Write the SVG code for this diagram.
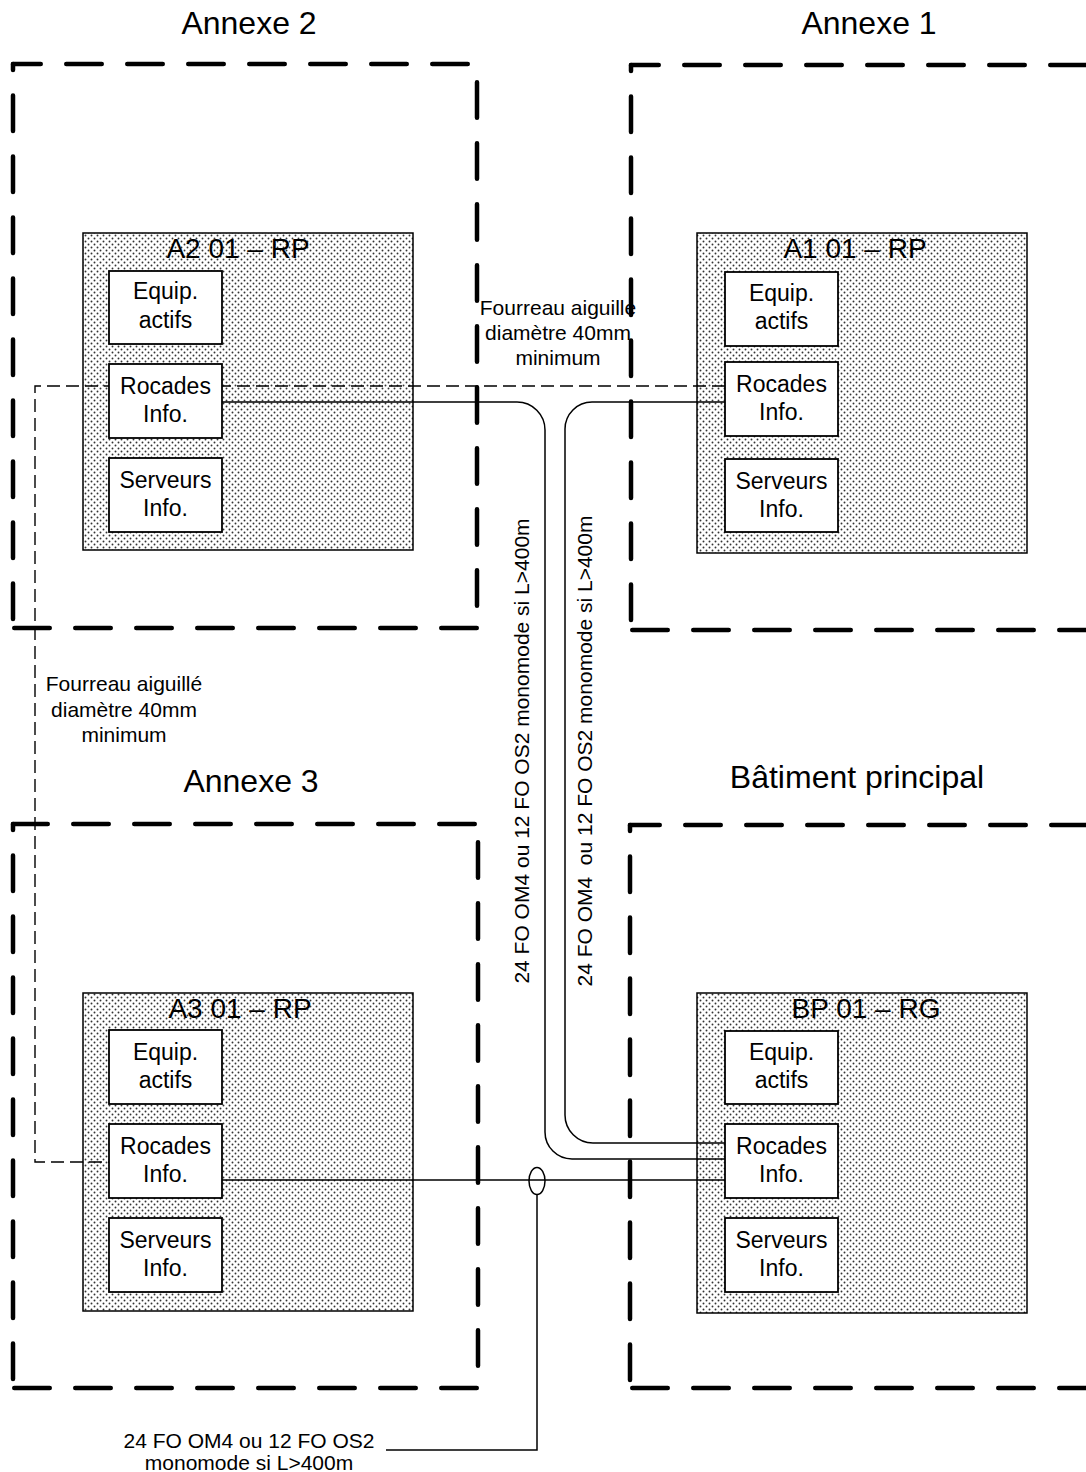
<svg xmlns="http://www.w3.org/2000/svg" width="1086" height="1472" viewBox="0 0 1086 1472">
<style>
.wall{fill:none;stroke:#000;stroke-width:4.5;stroke-linecap:round;stroke-dasharray:35.5 25.5}
.room{fill:url(#dots);stroke:#000;stroke-width:1.5}
.box{fill:#fff;stroke:#000;stroke-width:1.8}
.cable{fill:none;stroke:#000;stroke-width:1.5}
.duct{fill:none;stroke:#000;stroke-width:1.4;stroke-dasharray:13 6}
text{font-family:"Liberation Sans",Arial,sans-serif;fill:#000;text-anchor:middle}
.bld{font-size:32px}
.ttl{font-size:28px}
.lbl{font-size:23px}
.note{font-size:21px}
</style>
<defs>
<pattern id="dots" width="6" height="6" patternUnits="userSpaceOnUse">
<rect width="6" height="6" fill="#fff"/>
<circle cx="1.5" cy="1.5" r="0.95" fill="#333"/>
<circle cx="4.5" cy="4.5" r="0.95" fill="#333"/>
</pattern>
</defs>
<rect width="1086" height="1472" fill="#fff"/>

<g id="annexe2">
<line class="wall" x1="13" y1="64" x2="477" y2="64" stroke-dashoffset="7.75"/>
<line class="wall" x1="13" y1="64" x2="13" y2="628" stroke-dashoffset="29.5"/>
<line class="wall" x1="14.25" y1="628" x2="477" y2="628"/>
<line class="wall" x1="477" y1="82.25" x2="477" y2="628"/>
<text class="bld" x="249" y="34">Annexe 2</text>
</g>
<g id="annexe1">
<line class="wall" x1="631" y1="65" x2="1100" y2="65" stroke-dashoffset="7.75"/>
<line class="wall" x1="631" y1="65" x2="631" y2="630" stroke-dashoffset="29.5"/>
<line class="wall" x1="632.25" y1="630" x2="1100" y2="630"/>
<text class="bld" x="869" y="34">Annexe 1</text>
</g>
<g id="annexe3">
<line class="wall" x1="13" y1="824" x2="478" y2="824" stroke-dashoffset="0.75"/>
<line class="wall" x1="13" y1="824" x2="13" y2="1388" stroke-dashoffset="29.5"/>
<line class="wall" x1="14.25" y1="1388" x2="478" y2="1388"/>
<line class="wall" x1="478" y1="842.25" x2="478" y2="1388"/>
<text class="bld" x="251" y="792">Annexe 3</text>
</g>
<g id="batiment-principal">
<line class="wall" x1="630" y1="825" x2="1100" y2="825" stroke-dashoffset="5.75"/>
<line class="wall" x1="630" y1="825" x2="630" y2="1388" stroke-dashoffset="29.5"/>
<line class="wall" x1="632.25" y1="1388" x2="1100" y2="1388"/>
<text class="bld" x="857" y="788">Bâtiment principal</text>
</g>

<g id="room-a2">
<rect class="room" x="83" y="233" width="330" height="317"/>
<text class="ttl" x="238" y="258">A2 01 – RP</text>
</g>
<g id="room-a1">
<rect class="room" x="697" y="233" width="330" height="320"/>
<text class="ttl" x="855" y="258">A1 01 – RP</text>
</g>
<g id="room-a3">
<rect class="room" x="83" y="993" width="330" height="318"/>
<text class="ttl" x="240" y="1018">A3 01 – RP</text>
</g>
<g id="room-bp">
<rect class="room" x="697" y="993" width="330" height="320"/>
<text class="ttl" x="866" y="1018">BP 01 – RG</text>
</g>

<g id="connectors">
<path class="duct" d="M725,386 H35 V1162 H110"/>
<path class="cable" d="M222,402 H517 A28,28 0 0 1 545,430 V1132 A27,27 0 0 0 572,1159 H725"/>
<path class="cable" d="M725,402 H592 A27,27 0 0 0 565,429 V1115 A28,28 0 0 0 593,1143 H725"/>
<path class="cable" d="M222,1180 H725"/>
<ellipse class="cable" cx="537" cy="1181" rx="8" ry="13.5"/>
<path class="cable" d="M537,1194.5 V1450 H386"/>
<text class="note" x="558" y="315">Fourreau aiguille</text>
<text class="note" x="558" y="340">diamètre 40mm</text>
<text class="note" x="558" y="365">minimum</text>
<text class="note" x="124" y="691">Fourreau aiguillé</text>
<text class="note" x="124" y="717">diamètre 40mm</text>
<text class="note" x="124" y="742">minimum</text>
<text class="note" x="529" y="751" transform="rotate(-90 529 751)">24 FO OM4 ou 12 FO OS2 monomode si L&gt;400m</text>
<text class="note" x="592" y="751" transform="rotate(-90 592 751)" style="white-space:pre">24 FO OM4  ou 12 FO OS2 monomode si L&gt;400m</text>
<text class="note" x="249" y="1448">24 FO OM4 ou 12 FO OS2</text>
<text class="note" x="249" y="1470">monomode si L&gt;400m</text>
</g>

<g id="a2-equip"><rect class="box" x="109" y="271" width="113" height="73"/><text class="lbl" x="165.5" y="299">Equip.</text><text class="lbl" x="165.5" y="328">actifs</text></g>
<g id="a2-rocades"><rect class="box" x="109" y="364" width="113" height="74"/><text class="lbl" x="165.5" y="394">Rocades</text><text class="lbl" x="165.5" y="422">Info.</text></g>
<g id="a2-serveurs"><rect class="box" x="109" y="458" width="113" height="74"/><text class="lbl" x="165.5" y="488">Serveurs</text><text class="lbl" x="165.5" y="516">Info.</text></g>

<g id="a1-equip"><rect class="box" x="725" y="272" width="113" height="74"/><text class="lbl" x="781.5" y="301">Equip.</text><text class="lbl" x="781.5" y="329">actifs</text></g>
<g id="a1-rocades"><rect class="box" x="725" y="362" width="113" height="74"/><text class="lbl" x="781.5" y="392">Rocades</text><text class="lbl" x="781.5" y="420">Info.</text></g>
<g id="a1-serveurs"><rect class="box" x="725" y="459" width="113" height="73"/><text class="lbl" x="781.5" y="489">Serveurs</text><text class="lbl" x="781.5" y="517">Info.</text></g>

<g id="a3-equip"><rect class="box" x="109" y="1030" width="113" height="74"/><text class="lbl" x="165.5" y="1060">Equip.</text><text class="lbl" x="165.5" y="1088">actifs</text></g>
<g id="a3-rocades"><rect class="box" x="109" y="1124" width="113" height="74"/><text class="lbl" x="165.5" y="1154">Rocades</text><text class="lbl" x="165.5" y="1182">Info.</text></g>
<g id="a3-serveurs"><rect class="box" x="109" y="1218" width="113" height="74"/><text class="lbl" x="165.5" y="1248">Serveurs</text><text class="lbl" x="165.5" y="1276">Info.</text></g>

<g id="bp-equip"><rect class="box" x="725" y="1031" width="113" height="73"/><text class="lbl" x="781.5" y="1060">Equip.</text><text class="lbl" x="781.5" y="1088">actifs</text></g>
<g id="bp-rocades"><rect class="box" x="725" y="1124" width="113" height="74"/><text class="lbl" x="781.5" y="1154">Rocades</text><text class="lbl" x="781.5" y="1182">Info.</text></g>
<g id="bp-serveurs"><rect class="box" x="725" y="1218" width="113" height="74"/><text class="lbl" x="781.5" y="1248">Serveurs</text><text class="lbl" x="781.5" y="1276">Info.</text></g>
</svg>
